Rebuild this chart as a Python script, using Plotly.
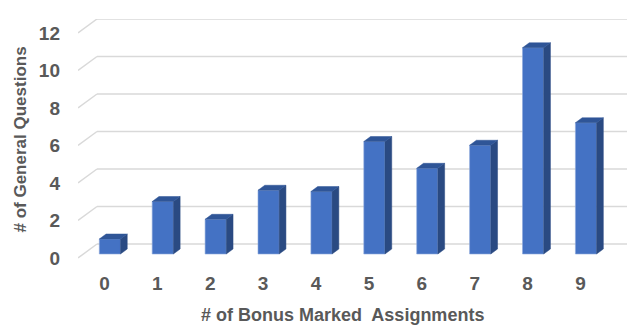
import plotly.graph_objects as go

# ---- data ----
categories = ["0", "1", "2", "3", "4", "5", "6", "7", "8", "9"]
questions = [0.8, 2.8, 1.85, 3.4, 3.33, 6.0, 4.57, 5.8, 11.0, 7.0]
y_ticks = [0, 2, 4, 6, 8, 10, 12]

# ---- geometry (3D look) ----
PX_PER_CAT = 52.9
PX_PER_UNIT = 18.75
DEPTH_X = 19 / PX_PER_CAT      # full floor depth, in x units
DEPTH_Y = 14 / PX_PER_UNIT     # full floor depth, in y units
BAR_FRONT = 4 / 14             # fraction of depth where bar front sits
BAR_BACK = 9 / 14
BAR_W = 0.4

FRONT = "#4472C4"
SIDE = "#2A4A82"
TOP = "#2F5597"
GRID = "#D9D9D9"
TXT = "#595959"
FONT = "Liberation Sans"

PAGE_OFF = 8  # default body margin of the html page

n = len(categories)
xs = list(range(n))
x_left = -0.5
x_right = x_left + 549 / PX_PER_CAT

# gridlines: back wall + left diagonal (drawn below the bars)
shapes = []
for t in y_ticks:
    shapes.append(dict(type="line", xref="x", yref="y", layer="below",
                       x0=x_left, y0=t, x1=x_left + DEPTH_X, y1=t + DEPTH_Y,
                       line=dict(color=GRID, width=1.5)))
    shapes.append(dict(type="line", xref="x", yref="y", layer="below",
                       x0=x_left + DEPTH_X, y0=t + DEPTH_Y, x1=x_right, y1=t + DEPTH_Y,
                       line=dict(color=GRID, width=1.5)))

# bars
fdx, fdy = DEPTH_X * BAR_FRONT, DEPTH_Y * BAR_FRONT
d = DEPTH_X * (BAR_BACK - BAR_FRONT)
e = DEPTH_Y * (BAR_BACK - BAR_FRONT)
front_x = [x + fdx for x in xs]
base = fdy

sx, sy, tx, ty = [], [], [], []
for xc, v in zip(front_x, questions):
    l, r = xc - BAR_W / 2, xc + BAR_W / 2
    top = base + v
    sx += [r, r + d, r + d, r, r, None]
    sy += [base, base + e, top + e, top, base, None]
    tx += [l, l + d, r + d, r, l, None]
    ty += [top, top + e, top + e, top, top, None]

fig = go.Figure()
fig.add_trace(go.Bar(x=front_x, y=questions, base=base, width=BAR_W,
                     marker=dict(color=FRONT, line=dict(color="#8FAADC", width=0.6)),
                     showlegend=False))
fig.add_trace(go.Scatter(x=sx, y=sy, mode="lines", fill="toself", fillcolor=SIDE,
                         line=dict(color=SIDE, width=0.5), hoverinfo="skip", showlegend=False))
fig.add_trace(go.Scatter(x=tx, y=ty, mode="lines", fill="toself", fillcolor=TOP,
                         line=dict(color=TOP, width=0.5), hoverinfo="skip", showlegend=False))

fig.update_layout(
    width=638 - PAGE_OFF, height=335 - PAGE_OFF, autosize=False,
    margin=dict(l=78 - PAGE_OFF, r=11, t=19 - PAGE_OFF, b=73),
    plot_bgcolor="white", paper_bgcolor="white",
    font=dict(family=FONT, color=TXT, size=18),
    shapes=shapes,
    xaxis=dict(range=[x_left, x_right], tickvals=xs, ticktext=categories,
               showgrid=False, zeroline=False, showline=False,
               tickfont=dict(family=FONT, size=19, color=TXT, weight="bold"),
               ticks="", ticklabelstandoff=8),
    yaxis=dict(range=[-(262 - 258) / PX_PER_UNIT, (258 - 19) / PX_PER_UNIT],
               tickvals=y_ticks, showgrid=False, zeroline=False, showline=False,
               tickfont=dict(family=FONT, size=19, color=TXT, weight="bold"),
               ticks="", ticklabelstandoff=17),
    annotations=[
        dict(text="# of Bonus Marked  Assignments", xref="paper", yref="paper",
             x=(342 - 78) / 549, y=(262 - 315) / 243, xanchor="center", yanchor="middle",
             showarrow=False, font=dict(family=FONT, size=18, color=TXT, weight="bold")),
        dict(text="# of General Questions", xref="paper", yref="paper",
             x=(20 - 78) / 549, y=(262 - 139.5) / 243, xanchor="center", yanchor="middle",
             textangle=-90, showarrow=False,
             font=dict(family=FONT, size=17, color=TXT, weight="bold")),
    ],
)

fig.write_html("out.html")
